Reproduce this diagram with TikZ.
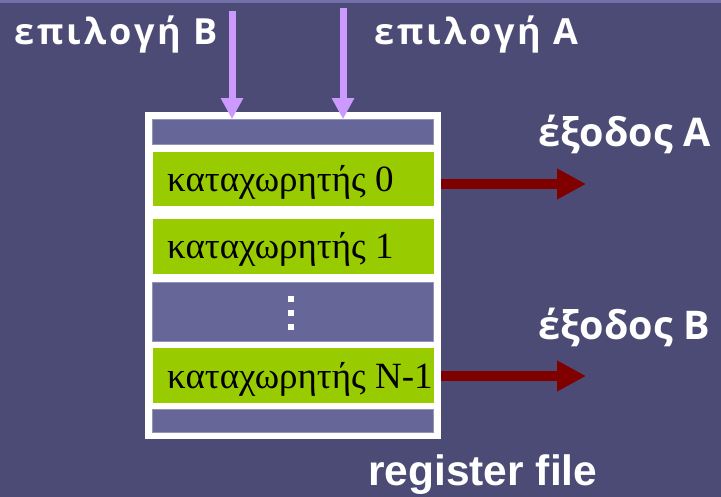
\documentclass[tikz,border=0pt]{standalone}
\usepackage{fontspec}
\setmainfont{Liberation Serif}
\newfontfamily\labelfont{Liberation Sans}
\newfontfamily\greeklabelfont{Open Sans}
\newfontfamily\greekwidefont[LetterSpace=8.5]{Open Sans}
\usetikzlibrary{arrows.meta}

\definecolor{bgc}{HTML}{4C4B76}
\definecolor{bandc}{HTML}{7170A8}
\definecolor{slotc}{HTML}{666699}
\definecolor{regc}{HTML}{99CC00}
\definecolor{outc}{HTML}{800000}
\definecolor{selc}{HTML}{CC99FF}

\tikzset{
  slot/.style={rectangle, inner sep=0pt, minimum width=281pt, fill=slotc, draw=slotc!70!white, line width=0.6pt},
  regslot/.style={rectangle, inner sep=0pt, minimum width=281pt, fill=regc},
  regtext/.style={anchor=base west, inner sep=0pt, font=\fontsize{37}{37}\selectfont, text=black},
  label/.style={anchor=base west, inner sep=0pt, text=white, font=\greekwidefont\bfseries\fontsize{36}{36}\selectfont},
  biglabel/.style={label, font=\greeklabelfont\bfseries\fontsize{39.5}{39.5}\selectfont},
  latinlabel/.style={label, font=\labelfont\bfseries\fontsize{42.5}{42.5}\selectfont},
  selarrow/.style={draw=selc, line width=7pt, -{Triangle[length=21pt,width=21pt]}},
  outarrow/.style={draw=outc, line width=10pt, -{Triangle[length=29pt,width=29pt]}},
  dot/.style={rectangle, fill=white, inner sep=0pt, minimum size=6pt},
}

\begin{document}
\begin{tikzpicture}[x=1pt, y=-1pt]
  % background and top band
  \fill[bgc] (0,0) rectangle (721,497);
  \fill[bandc] (0,0) rectangle (721,3.5);
  \useasboundingbox (0,0) rectangle (721,497);

  % register file frame
  \node[rectangle, fill=white, inner sep=0pt, minimum width=296pt, minimum height=327pt] (outer) at (293,275.5) {};

  % slots
  \node[slot, minimum height=24.5pt] (top) at (293,131.75) {};
  \node[regslot, minimum height=54pt] (r0) at (293,179) {};
  \node[regslot, minimum height=54.5pt] (r1) at (293,246.75) {};
  \node[slot, minimum height=59pt] (mid) at (293,311.5) {};
  \node[regslot, minimum height=54pt] (rN) at (293,375.5) {};
  \node[slot, minimum height=23pt] (bot) at (293,421) {};

  % register names
  \node[regtext] (t0) at (167,191.5) {καταχωρητής 0};
  \node[regtext] (t1) at (167,258.3) {καταχωρητής 1};
  \node[regtext] (tN) at (167,388.3) {καταχωρητής N-1};

  % vertical ellipsis
  \node[dot] (d1) at (290.5,299) {};
  \node[dot] (d2) at (290.5,313) {};
  \node[dot] (d3) at (290.5,327.5) {};

  % select inputs
  \coordinate (selB) at (232,11);
  \coordinate (selA) at (343,8);
  \draw[selarrow] (selB) -- (selB |- top.north);
  \draw[selarrow] (selA) -- (selA |- top.north);

  % outputs
  \coordinate (outA) at (586,184);
  \coordinate (outB) at (586,376);
  \draw[outarrow] (outer.east |- outA) -- (outA);
  \draw[outarrow] (outer.east |- outB) -- (outB);

  % labels
  \node[label] (lselB) at (14,45) {επιλογή Β};
  \node[label] (lselA) at (374,45) {επιλογή Α};
  \node[biglabel] (loutA) at (538,146.5) {έξοδος Α};
  \node[biglabel] (loutB) at (538,339.3) {έξοδος Β};
  \node[latinlabel] (lrf) at (368,485.5) {register file};
\end{tikzpicture}
\end{document}
